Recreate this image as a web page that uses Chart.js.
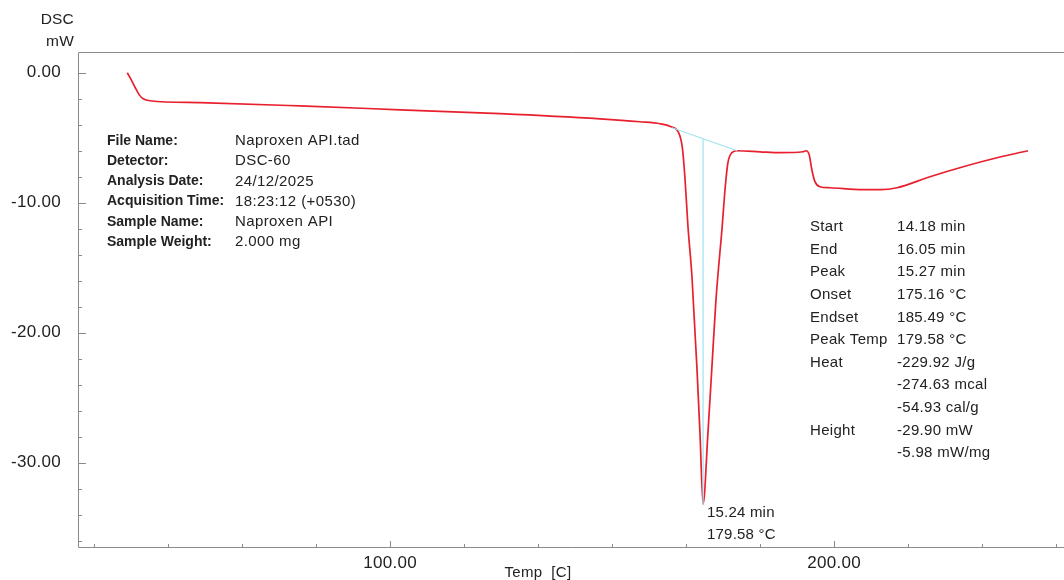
<!DOCTYPE html>
<html>
<head>
<meta charset="utf-8">
<script src="https://cdn.jsdelivr.net/npm/chart.js@4"></script>
<style>
    body { margin: 0; background: #fff; }
    #wrap { width: 1064px; height: 580px; position: relative; }
</style>
</head>
<body>
<div id="wrap"><canvas id="dsc"></canvas></div>
<script>
// DSC curve (x = temp axis, y = mW)
const tempX = [40.8, 41.7, 42.6, 43.5, 44.4, 45.9, 57.2, 79.7, 102.3, 124.8, 147.3, 156.3, 160.8,
    163.3, 164.9, 165.8, 166.4, 167.1, 168.0, 169.1, 169.8, 170.5,
    171.6, 172.5, 173.4, 174.8, 175.5, 176.1, 177.0, 178.2, 183.3, 187.8,
    193.0, 193.7, 194.4, 195.0, 195.7, 196.8, 199.1, 206.5, 210.4, 214.2, 221.6, 229.1, 236.7, 243.7];
const dscMw = [0.0, -0.54, -1.15, -1.7, -2.0, -2.15, -2.3, -2.55, -2.85, -3.15, -3.55, -3.77, -3.92,
    -4.15, -4.54, -5.69, -8.0, -11.85, -15.7, -22.6, -27.7, -33.2,
    -27.7, -22.6, -17.5, -11.85, -8.77, -6.92, -6.15, -6.0, -6.08, -6.15,
    -6.08, -6.0, -6.3, -7.46, -8.38, -8.77, -8.85, -9.0, -9.0, -8.85, -8.0, -7.23, -6.54, -6.0];

// peak baseline + drop line
const baseX = [163.5, 178.2];
const baseY = [-4.23, -6.0];
const dropX = [170.5, 170.5];
const dropY = [-5.1, -33.2];

const yMajor = [0, -10, -20, -30];
const yMinor = [-2, -4, -6, -8, -12, -14, -16, -18, -22, -24, -26, -28, -32, -34, -36];
const xMajor = [100, 200];
const xMinor = [33.33, 50, 66.67, 83.33, 116.67, 133.33, 150, 166.67, 183.33, 216.67, 233.33, 250];

const infoLabels = ['File Name:', 'Detector:', 'Analysis Date:', 'Acquisition Time:', 'Sample Name:', 'Sample Weight:'];
const infoValues = ['Naproxen API.tad', 'DSC-60', '24/12/2025', '18:23:12 (+0530)', 'Naproxen API', '2.000 mg'];
const resLabels = ['Start', 'End', 'Peak', 'Onset', 'Endset', 'Peak Temp', 'Heat', '', '', 'Height', ''];
const resValues = ['14.18 min', '16.05 min', '15.27 min', '175.16 °C', '185.49 °C', '179.58 °C',
    '-229.92 J/g', '-274.63 mcal', '-54.93 cal/g', '-29.90 mW', '-5.98 mW/mg'];
const peakNote = ['15.24 min', '179.58 °C'];

const pts = (xs, ys) => xs.map((v, i) => ({x: v, y: ys[i]}));

const FONT = '"Liberation Sans", Arial, Helvetica, sans-serif';
const TEXT = '#222';
const AXIS = '#8a8a8a';

function txt(ctx, s, x, y, size, opts) {
    opts = opts || {};
    ctx.font = (opts.bold ? 'bold ' : '') + size + 'px ' + FONT;
    ctx.letterSpacing = (opts.sp || 0) + 'px';
    ctx.textAlign = opts.align || 'left';
    ctx.textBaseline = 'middle';
    ctx.fillStyle = TEXT;
    ctx.fillText(s, x, y);
}

const overlay = {
    id: 'overlay',
    afterDraw(chart) {
        const {ctx, chartArea: a, scales: {x, y}} = chart;
        ctx.save();
        ctx.strokeStyle = AXIS;
        ctx.lineWidth = 1;
        ctx.beginPath();
        ctx.moveTo(chart.width, a.top + 0.5);
        ctx.lineTo(a.left + 0.5, a.top + 0.5);
        ctx.lineTo(a.left + 0.5, a.bottom + 0.5);
        ctx.lineTo(chart.width, a.bottom + 0.5);
        ctx.stroke();

        ctx.beginPath();
        yMajor.forEach(v => { const p = Math.round(y.getPixelForValue(v)) + 0.5; ctx.moveTo(a.left, p); ctx.lineTo(a.left + 8, p); });
        yMinor.forEach(v => { const p = Math.round(y.getPixelForValue(v)) + 0.5; ctx.moveTo(a.left, p); ctx.lineTo(a.left + 4, p); });
        xMajor.forEach(v => { const p = Math.round(x.getPixelForValue(v)) + 0.5; ctx.moveTo(p, a.bottom); ctx.lineTo(p, a.bottom - 6); });
        xMinor.forEach(v => { const p = Math.round(x.getPixelForValue(v)) + 0.5; ctx.moveTo(p, a.bottom); ctx.lineTo(p, a.bottom - 3); });
        ctx.stroke();

        yMajor.forEach(v => txt(ctx, v.toFixed(2), a.left - 17, y.getPixelForValue(v), 17, {align: 'right', sp: 0.3}));
        xMajor.forEach(v => txt(ctx, v.toFixed(2), x.getPixelForValue(v), a.bottom + 16, 17, {align: 'center', sp: 0.3}));

        txt(ctx, 'DSC', 74, 20, 15.5, {align: 'right', sp: 0.2});
        txt(ctx, 'mW', 74, 42, 15.5, {align: 'right', sp: 0.2});
        txt(ctx, 'Temp  [C]', 538, 573, 15, {align: 'center', sp: 0.3});

        infoLabels.forEach((s, i) => {
            txt(ctx, s, 107, 141 + i * 20.2, 14, {bold: true});
            txt(ctx, infoValues[i], 235, 141 + i * 20.2, 15, {sp: 0.4});
        });
        resValues.forEach((s, i) => {
            if (resLabels[i]) txt(ctx, resLabels[i], 810, 227 + i * 22.6, 15, {sp: 0.3});
            txt(ctx, s, 897, 227 + i * 22.6, 15, {sp: 0.3});
        });
        peakNote.forEach((s, i) => txt(ctx, s, 707, 513 + i * 21.5, 15, {sp: 0.2}));
        ctx.restore();
    }
};

new Chart(document.getElementById('dsc'), {
    type: 'scatter',
    data: {
        datasets: [
            {
                data: pts(baseX, baseY), showLine: true, borderColor: '#9fe3f0', borderWidth: 1.2,
                pointRadius: 0
            },
            {
                data: pts(dropX, dropY), showLine: true, borderColor: '#9fe3f0', borderWidth: 1.2,
                pointRadius: 0
            },
            {
                data: pts(tempX, dscMw), showLine: true, borderColor: '#e8202e', borderWidth: 1.7,
                pointRadius: 0, cubicInterpolationMode: 'monotone'
            }
        ]
    },
    options: {
        responsive: true,
        maintainAspectRatio: false,
        animation: false,
        layout: {padding: {left: 78, top: 52, right: 0, bottom: 33}},
        plugins: {legend: {display: false}, tooltip: {enabled: false}},
        scales: {
            x: {type: 'linear', min: 29.7, max: 251.8, display: false},
            y: {type: 'linear', min: -36.5, max: 1.6, display: false}
        }
    },
    plugins: [overlay]
});
</script>
</body>
</html>
